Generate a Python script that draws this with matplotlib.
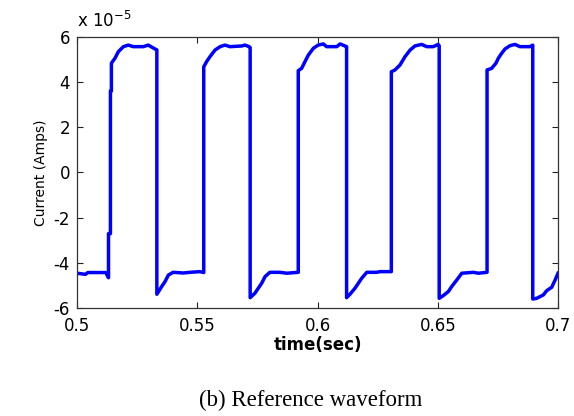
import matplotlib
matplotlib.use("Agg")
import matplotlib.pyplot as plt

# Waveform vertices (time in s, current in units of 1e-5 A)
time_s = [
    0.5000, 0.5035, 0.5045, 0.5120, 0.5126, 0.5131, 0.5131, 0.5139, 0.5139, 0.5143, 0.5143,
    0.5158, 0.5172, 0.5193, 0.5213, 0.5234, 0.5276, 0.5296, 0.5324, 0.5332,
    0.5332, 0.5352, 0.5366, 0.5380, 0.5400, 0.5442, 0.5470, 0.5511, 0.5527,
    0.5527, 0.5539, 0.5553, 0.5574, 0.5595, 0.5615, 0.5636, 0.5685, 0.5698, 0.5716, 0.5720,
    0.5720, 0.5740, 0.5754, 0.5768, 0.5782, 0.5802, 0.5844, 0.5872, 0.5920,
    0.5920, 0.5934, 0.5948, 0.5962, 0.5983, 0.6003, 0.6024, 0.6038, 0.6080, 0.6094, 0.6114, 0.6121,
    0.6121, 0.6135, 0.6156, 0.6170, 0.6184, 0.6205, 0.6246, 0.6260, 0.6307,
    0.6307, 0.6322, 0.6343, 0.6364, 0.6385, 0.6405, 0.6433, 0.6454, 0.6481, 0.6502, 0.6506,
    0.6506, 0.6523, 0.6544, 0.6558, 0.6579, 0.6600, 0.6648, 0.6669, 0.6705,
    0.6705, 0.6724, 0.6742, 0.6752, 0.6766, 0.6780, 0.6800, 0.6821, 0.6842, 0.6884, 0.6895,
    0.6895, 0.6911, 0.6939, 0.6953, 0.6974, 0.6988, 0.7000,
]
current_e5 = [
    -4.45, -4.50, -4.42, -4.42, -4.55, -4.65, -2.70, -2.70, 3.60, 3.60, 4.83,
    5.05, 5.34, 5.56, 5.63, 5.56, 5.56, 5.63, 5.46, 5.42,
    -5.38, -5.04, -4.82, -4.53, -4.41, -4.44, -4.41, -4.38, -4.42,
    4.67, 4.90, 5.12, 5.41, 5.56, 5.63, 5.56, 5.59, 5.63, 5.56, 5.52,
    -5.53, -5.33, -5.11, -4.89, -4.60, -4.41, -4.41, -4.45, -4.41,
    4.50, 4.60, 4.90, 5.19, 5.49, 5.63, 5.68, 5.56, 5.56, 5.68, 5.59, 5.56,
    -5.53, -5.38, -5.11, -4.89, -4.67, -4.41, -4.41, -4.38, -4.38,
    4.45, 4.53, 4.75, 5.12, 5.41, 5.59, 5.66, 5.56, 5.56, 5.66, 5.60,
    -5.56, -5.44, -5.26, -5.04, -4.75, -4.45, -4.41, -4.45, -4.41,
    4.53, 4.60, 4.83, 5.05, 5.27, 5.46, 5.60, 5.66, 5.56, 5.56, 5.63,
    -5.59, -5.56, -5.41, -5.22, -5.07, -4.75, -4.45,
]

x_ticks = [0.5, 0.55, 0.6, 0.65, 0.7]
x_tick_labels = ["0.5", "0.55", "0.6", "0.65", "0.7"]
y_ticks = [-6, -4, -2, 0, 2, 4, 6]
y_tick_labels = ["-6", "-4", "-2", "0", "2", "4", "6"]

fig = plt.figure(figsize=(5.74, 4.16), dpi=100)
ax = fig.add_axes([77 / 574, 1 - 308.3 / 416, (558 - 77) / 574, (308.3 - 36.7) / 416])

ax.plot(time_s, current_e5, color="#0000ff", linewidth=2.5, solid_joinstyle="round")

ax.set_xlim(0.5, 0.7)
ax.set_ylim(-6, 6)
ax.set_xticks(x_ticks)
ax.set_xticklabels(x_tick_labels, fontfamily="DejaVu Sans", fontsize=12)
ax.set_yticks(y_ticks)
ax.set_yticklabels(y_tick_labels, fontfamily="DejaVu Sans", fontsize=12)
ax.tick_params(direction="in", top=True, right=True, length=4, width=0.8,
               colors="#222222", labelcolor="black")
ax.tick_params(axis="x", pad=6)
ax.tick_params(axis="y", pad=5)
for s in ax.spines.values():
    s.set_linewidth(0.9)
    s.set_color("#333333")

ax.set_xlabel("time(sec)", fontfamily="DejaVu Sans", fontsize=12, fontweight="bold", labelpad=1)
ax.set_ylabel("Current (Amps)", fontfamily="DejaVu Sans", fontsize=10, labelpad=4)

fig.text(77 / 574, 1 - 21 / 416, r"x 10$^{-5}$", fontfamily="DejaVu Sans", fontsize=12,
         ha="left", va="center", math_fontfamily="dejavusans")

fig.text(311 / 574, 1 - 400 / 416, "(b) Reference waveform", fontfamily="Liberation Serif",
         fontsize=16.5, ha="center", va="center")

fig.savefig("out.png", dpi=100)
